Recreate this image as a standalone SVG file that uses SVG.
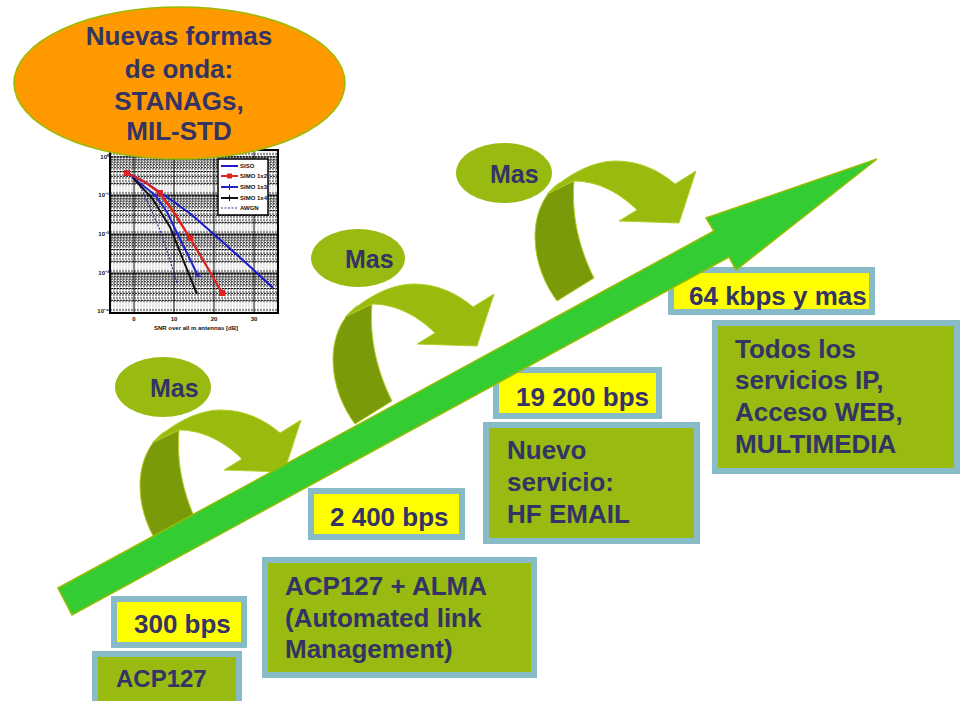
<svg xmlns="http://www.w3.org/2000/svg" xmlns:xlink="http://www.w3.org/1999/xlink" width="961" height="701" viewBox="0 0 961 701">
<style>
.t{font-family:"Liberation Sans",Arial,sans-serif;font-weight:bold;fill:#333366;font-size:26px}
.ct{font-family:"Liberation Sans",Arial,sans-serif;font-weight:bold;fill:#111;font-size:6px}
.bx{stroke:#88bbc8;stroke-width:6}
.yl{fill:#ffff00}
.gr{fill:#99bb11}
.mas{fill:#99bb11}
.lt{fill:#99bb0d;stroke:#b2cf2a;stroke-width:1}
.dk{fill:#7a9a0a;stroke:#b2cf2a;stroke-width:1}
</style>
<defs>
<pattern id="vgrid" patternUnits="userSpaceOnUse" x="110" y="0" width="3" height="3">
<line x1="1" y1="0" x2="1" y2="2.2" stroke="#111" stroke-width="1.2"/>
</pattern>
<pattern id="hgrid" patternUnits="userSpaceOnUse" x="0" y="156" width="3" height="39">
<g stroke="#fff" stroke-width="1.6">
<line x1="0" y1="31" x2="3" y2="31"/><line x1="0" y1="34" x2="3" y2="34"/>
</g>
<g stroke="#000" stroke-width="0.9">
<line x1="0" y1="0.4" x2="2" y2="0.4"/><line x1="0" y1="1.8" x2="2" y2="1.8"/><line x1="0" y1="3.8" x2="2" y2="3.8"/>
<line x1="0" y1="6" x2="2" y2="6"/><line x1="0" y1="8.7" x2="2" y2="8.7"/><line x1="0" y1="11.7" x2="2" y2="11.7"/>
<line x1="0" y1="15.5" x2="2" y2="15.5"/><line x1="0" y1="20.4" x2="2" y2="20.4"/><line x1="0" y1="27.3" x2="2" y2="27.3"/>
</g>
</pattern>
<g id="curved">
<path class="dk" d="M357,306 C343,316 333,335 333,360 C333,385 343,408 355,424 L392,401 C378,373 369,340 372,304 Z"/>
<path class="lt" d="M345,317 C365,298 390,284 414,284 C438,284 458,294 473,307 L494,294 L477,346 L417,344 L435,333 C420,318 398,304 372,304 Z"/>
</g>
</defs>
<rect width="961" height="701" fill="#fff"/>

<g id="chart">
<rect x="110" y="150" width="168" height="163" fill="#fff"/>
<rect x="110" y="150" width="168" height="163" fill="url(#vgrid)" opacity="0.75"/>
<rect x="110" y="150" width="168" height="163" fill="url(#hgrid)"/>
<g stroke="#000" stroke-width="0.9">
<line x1="110" y1="195" x2="278" y2="195"/><line x1="110" y1="234" x2="278" y2="234"/><line x1="110" y1="273" x2="278" y2="273"/>
<line x1="134" y1="150" x2="134" y2="313"/><line x1="174" y1="150" x2="174" y2="313"/><line x1="214" y1="150" x2="214" y2="313"/><line x1="254" y1="150" x2="254" y2="313"/>
</g>
<rect x="110" y="150" width="168" height="163" fill="none" stroke="#000" stroke-width="2"/>
<polyline points="137,180 148,203 160,230 169,257 177,283" fill="none" stroke="#333399" stroke-width="1.2" stroke-dasharray="2,1.5"/>
<polyline points="125,172 145,182 167,197 192,215 217,237 245,262 273,288" fill="none" stroke="#1a1acc" stroke-width="2"/>
<polyline points="127,173 145,182 160,193 175,214 190,238 206,265 222,293" fill="none" stroke="#dd2222" stroke-width="2.4"/>
<g fill="#dd2222"><rect x="124" y="170" width="6" height="6"/><rect x="157" y="190" width="6" height="6"/><rect x="187" y="235" width="6" height="6"/><rect x="219" y="290" width="6" height="6"/></g>
<polyline points="132,177 155,195 167,212 177,233 188,255 198,276" fill="none" stroke="#2222cc" stroke-width="2"/>
<polyline points="133,178 152,198 170,227 184,262 197,294" fill="none" stroke="#111" stroke-width="2"/>
<g stroke="#2222cc" stroke-width="1.2"><line x1="152" y1="195" x2="158" y2="195"/><line x1="174" y1="233" x2="180" y2="233"/><line x1="195" y1="276" x2="201" y2="276"/></g>
<rect x="218" y="159" width="50" height="56" fill="#fff" stroke="#000" stroke-width="1.5"/>
<line x1="221" y1="166" x2="238" y2="166" stroke="#1a1acc" stroke-width="2"/>
<line x1="221" y1="176" x2="238" y2="176" stroke="#dd2222" stroke-width="2"/><rect x="227" y="173.5" width="5" height="5" fill="#dd2222"/>
<line x1="221" y1="187" x2="238" y2="187" stroke="#2222cc" stroke-width="2"/><line x1="229.5" y1="184" x2="229.5" y2="190" stroke="#2222cc"/>
<line x1="221" y1="198" x2="238" y2="198" stroke="#111" stroke-width="2"/><line x1="229.5" y1="195" x2="229.5" y2="201" stroke="#111"/>
<line x1="221" y1="208" x2="238" y2="208" stroke="#333399" stroke-width="1.2" stroke-dasharray="2,1.5"/>
<text class="ct" x="240" y="168">SISO</text>
<text class="ct" x="240" y="178">SIMO 1x2</text>
<text class="ct" x="240" y="189">SIMO 1x3</text>
<text class="ct" x="240" y="200">SIMO 1x4</text>
<text class="ct" x="240" y="210">AWGN</text>
<g text-anchor="end">
<text class="ct" x="109" y="159">10⁰</text>
<text class="ct" x="109" y="197">10⁻¹</text>
<text class="ct" x="109" y="236">10⁻²</text>
<text class="ct" x="109" y="275">10⁻³</text>
<text class="ct" x="109" y="313">10⁻⁴</text>
</g>
<g text-anchor="middle">
<text class="ct" x="134" y="321">0</text>
<text class="ct" x="174" y="321">10</text>
<text class="ct" x="214" y="321">20</text>
<text class="ct" x="254" y="321">30</text>
<text class="ct" x="196" y="330">SNR over all m antennas [dB]</text>
</g>
</g>

<g id="nuevas-formas">
<ellipse cx="179.5" cy="83" rx="165.5" ry="76" fill="#ff9900" stroke="#99bb00" stroke-width="1.5"/>
<g text-anchor="middle">
<text class="t" x="179" y="45">Nuevas formas</text>
<text class="t" x="179" y="78">de onda:</text>
<text class="t" x="179" y="110">STANAGs,</text>
<text class="t" x="179" y="140">MIL-STD</text>
</g>
</g>

<g id="mas1"><ellipse class="mas" cx="163" cy="387" rx="48" ry="30"/><text class="t" x="150" y="397" style="font-size:25px">Mas</text></g>
<g id="mas2"><ellipse class="mas" cx="358" cy="258" rx="47" ry="29"/><text class="t" x="345" y="268" style="font-size:25px">Mas</text></g>
<g id="mas3"><ellipse class="mas" cx="504" cy="173" rx="48" ry="30"/><text class="t" x="490" y="183" style="font-size:25px">Mas</text></g>

<g id="box-300"><rect class="bx yl" x="114" y="599" width="130" height="46"/><text class="t" x="134" y="633">300 bps</text></g>
<g id="box-acp127"><rect class="bx gr" x="95" y="654" width="144" height="60"/><text class="t" x="116" y="687" style="font-size:24px">ACP127</text></g>
<g id="box-2400"><rect class="bx yl" x="311" y="491" width="151" height="46"/><text class="t" x="330" y="526">2 400 bps</text></g>
<g id="box-alma"><rect class="bx gr" x="265" y="560" width="269" height="115"/>
<text class="t" x="285" y="595">ACP127 + ALMA</text><text class="t" x="285" y="627">(Automated link</text><text class="t" x="285" y="658">Management)</text></g>
<g id="box-19200"><rect class="bx yl" x="496" y="370" width="163" height="46"/><text class="t" x="516" y="406">19 200 bps</text></g>
<g id="box-email"><rect class="bx gr" x="486" y="425" width="211" height="116"/>
<text class="t" x="507" y="459">Nuevo</text><text class="t" x="507" y="491">servicio:</text><text class="t" x="507" y="523">HF EMAIL</text></g>
<g id="box-64k"><rect class="bx yl" x="671" y="270" width="201" height="42"/><text class="t" x="689" y="305">64 kbps y mas</text></g>
<g id="box-ip"><rect class="bx gr" x="715" y="323" width="242" height="148"/>
<text class="t" x="735" y="358">Todos los</text><text class="t" x="735" y="389">servicios IP,</text><text class="t" x="735" y="421">Acceso WEB,</text><text class="t" x="735" y="453">MULTIMEDIA</text></g>

<g id="connectors">
<use xlink:href="#curved" href="#curved" transform="translate(-193,126)"/>
<use xlink:href="#curved" href="#curved"/>
<use xlink:href="#curved" href="#curved" transform="translate(202,-123)"/>
<polygon points="58,588 714,231 706,218 877,159 736,270 729,257 72,615" fill="#33cc33" stroke="#99bb00" stroke-width="1.5" stroke-linejoin="miter"/>
</g>
</svg>
